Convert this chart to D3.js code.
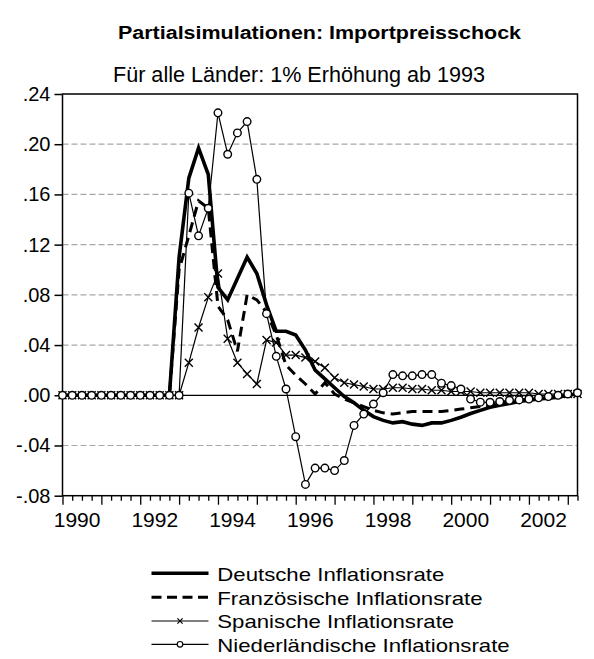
<!DOCTYPE html>
<html>
<head>
<meta charset="utf-8">
<script src="https://cdn.jsdelivr.net/npm/d3@7"></script>
<style>
  html, body { margin: 0; padding: 0; background: #fff; }
  svg { display: block; font-family: "Liberation Sans", Arial, sans-serif; }
</style>
</head>
<body>
<svg id="chart" width="594" height="659"></svg>
<script>
// Quarterly responses 1990Q1 .. 2003Q2 to a 1% import price rise from 1993
const startYear = 1990;
const deutsche = [
  0, 0, 0, 0, 0, 0, 0, 0, 0, 0, 0, 0,
  0.110, 0.173, 0.197, 0.176, 0.086, 0.076, 0.093, 0.110, 0.097, 0.072,
  0.051, 0.051, 0.048, 0.036, 0.020, 0.013, 0.006, -0.001, -0.006, -0.012,
  -0.017, -0.020, -0.022, -0.021, -0.023, -0.024, -0.022, -0.022, -0.020, -0.0175,
  -0.0145, -0.012, -0.0096, -0.008, -0.0065, -0.005, -0.004, -0.003, -0.0023, -0.0015,
  0.000, 0.001
];
const franzoesisch = [
  0, 0, 0, 0, 0, 0, 0, 0, 0, 0, 0, 0,
  0.100, 0.127, 0.155, 0.149, 0.071, 0.060, 0.035, 0.080, 0.076, 0.066,
  0.048, 0.024, 0.016, 0.009, 0.001, 0.010, 0.001, -0.003, -0.006, -0.009,
  -0.012, -0.014, -0.015, -0.014, -0.013, -0.013, -0.013, -0.013, -0.012, -0.011,
  -0.010, -0.009, -0.008, -0.006, -0.005, -0.004, -0.003, -0.002, -0.0015, -0.001,
  0.000, 0.001
];
const spanisch = [
  0, 0, 0, 0, 0, 0, 0, 0, 0, 0, 0, 0,
  0, 0.026, 0.054, 0.078, 0.097, 0.045, 0.026, 0.017, 0.009, 0.044,
  0.042, 0.032, 0.032, 0.030, 0.027, 0.022, 0.014, 0.010, 0.0085, 0.007,
  0.005, 0.005, 0.006, 0.006, 0.005, 0.005, 0.004, 0.004, 0.003, 0.003,
  0.003, 0.002, 0.002, 0.002, 0.002, 0.002, 0.002, 0.001, 0.001, 0.001,
  0.001, 0.001
];
const niederlaendisch = [
  0, 0, 0, 0, 0, 0, 0, 0, 0, 0, 0, 0,
  0, 0.161, 0.127, 0.149, 0.225, 0.192, 0.209, 0.218, 0.172, 0.065,
  0.031, 0.005, -0.033, -0.071, -0.058, -0.058, -0.060, -0.052, -0.024, -0.015,
  -0.007, 0.002, 0.0165, 0.0155, 0.0155, 0.0165, 0.0165, 0.0096, 0.0077, 0.005,
  -0.003, -0.0055, -0.0056, -0.005, -0.004, -0.0037, -0.003, -0.002, -0.001, 0.000,
  0.001, 0.002
];
const yTicks = [-0.08, -0.04, 0.00, 0.04, 0.08, 0.12, 0.16, 0.20, 0.24];
const yearLabels = [1990, 1992, 1994, 1996, 1998, 2000, 2002];
const seriesNames = [
  "Deutsche Inflationsrate",
  "Französische Inflationsrate",
  "Spanische Inflationsrate",
  "Niederländische Inflationsrate"
];

(function draw() {
  const svg = d3.select("#chart");
  svg.append("rect").attr("width", 594).attr("height", 659).attr("fill", "#fff");

  const pLeft = 62.5, pRight = 577.5, pTop = 94, pBottom = 495.7;
  const nObs = deutsche.length;
  const x = d3.scaleLinear()
    .domain([startYear, startYear + (nObs - 1) / 4])
    .range([pLeft, pRight]);
  const y = d3.scaleLinear().domain([-0.08, 0.24]).range([pBottom, pTop]);
  const tAt = i => startYear + i / 4;

  // stretch a text element horizontally to a target width
  function stretchTo(sel, w) {
    sel.attr("textLength", w).attr("lengthAdjust", "spacingAndGlyphs");
  }
  function stretchBy(sel, k) {
    sel.each(function () {
      const w = this.getComputedTextLength();
      d3.select(this).attr("textLength", w * k).attr("lengthAdjust", "spacingAndGlyphs");
    });
  }

  // titles
  svg.append("text")
    .attr("x", 118).attr("y", 39)
    .attr("font-weight", "bold").attr("font-size", 18)
    .text("Partialsimulationen: Importpreisschock")
    .call(stretchTo, 403);
  svg.append("text")
    .attr("x", 113).attr("y", 81.5)
    .attr("font-size", 21.5)
    .text("Für alle Länder: 1% Erhöhung ab 1993")
    .call(stretchTo, 372);

  // dashed horizontal grid
  const g = svg.append("g");
  g.selectAll("line.grid")
    .data(yTicks.filter(v => v !== 0 && v !== -0.08 && v !== 0.24))
    .join("line")
    .attr("x1", pLeft).attr("x2", pRight)
    .attr("y1", d => y(d)).attr("y2", d => y(d))
    .attr("stroke", "#a8a8a8").attr("stroke-width", 1.2)
    .attr("stroke-dasharray", "6,3");

  // zero line
  g.append("line")
    .attr("x1", pLeft).attr("x2", pRight)
    .attr("y1", y(0)).attr("y2", y(0))
    .attr("stroke", "#000").attr("stroke-width", 1.2);

  // y axis
  const yAxis = d3.axisLeft(y)
    .tickValues(yTicks)
    .tickSize(8)
    .tickPadding(4)
    .tickFormat(v => v.toFixed(2).replace("0.", "."));
  const ya = svg.append("g").attr("transform", `translate(${pLeft},0)`).call(yAxis);
  ya.select(".domain").remove();
  ya.selectAll(".tick line").attr("stroke", "#000").attr("stroke-width", 1.5);
  ya.selectAll(".tick text").attr("font-size", 20).attr("fill", "#000")
    .attr("font-family", "Liberation Sans, Arial, sans-serif");

  // x axis: yearly major ticks, quarterly minor ticks
  const quarterTicks = d3.range(0, nObs).map(tAt);
  const xMinor = d3.axisBottom(x).tickValues(quarterTicks.filter(t => t % 1 !== 0))
    .tickSize(5).tickFormat("");
  const xMajor = d3.axisBottom(x).tickValues(quarterTicks.filter(t => t % 1 === 0))
    .tickSize(9).tickFormat("");
  [xMinor, xMajor].forEach(ax => {
    const a = svg.append("g").attr("transform", `translate(0,${pBottom})`).call(ax);
    a.select(".domain").remove();
    a.selectAll(".tick line").attr("stroke", "#000").attr("stroke-width", 1.3);
  });
  svg.append("g").selectAll("text")
    .data(yearLabels)
    .join("text")
    .attr("x", d => x(d + 0.375)).attr("y", 527)
    .attr("text-anchor", "middle").attr("font-size", 21)
    .text(d => d);

  // frame
  svg.append("rect")
    .attr("x", pLeft).attr("y", pTop)
    .attr("width", pRight - pLeft).attr("height", pBottom - pTop)
    .attr("fill", "none").attr("stroke", "#000").attr("stroke-width", 1.5);

  // series
  const line = d3.line().x((d, i) => x(tAt(i))).y(d => y(d));
  const plot = svg.append("g");

  plot.append("path").datum(niederlaendisch).attr("d", line)
    .attr("fill", "none").attr("stroke", "#000").attr("stroke-width", 1.2);
  plot.append("path").datum(spanisch).attr("d", line)
    .attr("fill", "none").attr("stroke", "#000").attr("stroke-width", 1.2);
  plot.append("path").datum(franzoesisch).attr("d", line)
    .attr("fill", "none").attr("stroke", "#000").attr("stroke-width", 3)
    .attr("stroke-dasharray", "10,6");
  plot.append("path").datum(deutsche).attr("d", line)
    .attr("fill", "none").attr("stroke", "#000").attr("stroke-width", 3.6)
    .attr("stroke-linejoin", "miter");

  // x markers (Spanish)
  const xs = 4;
  plot.append("g").selectAll("path")
    .data(spanisch)
    .join("path")
    .attr("d", (d, i) => {
      const cx = x(tAt(i)), cy = y(d);
      return `M${cx - xs},${cy - xs}L${cx + xs},${cy + xs}M${cx - xs},${cy + xs}L${cx + xs},${cy - xs}`;
    })
    .attr("stroke", "#000").attr("stroke-width", 1.4);

  // circle markers (Dutch)
  plot.append("g").selectAll("circle")
    .data(niederlaendisch)
    .join("circle")
    .attr("cx", (d, i) => x(tAt(i))).attr("cy", d => y(d))
    .attr("r", 3.8)
    .attr("fill", "#fff").attr("stroke", "#000").attr("stroke-width", 1.4);

  // legend
  const legY = [573.3, 597.3, 621, 644.3];
  const legStyles = [
    { w: 3.6, dash: null },
    { w: 3, dash: "10,5.5" },
    { w: 1.2, dash: null, mark: "x" },
    { w: 1.2, dash: null, mark: "o" }
  ];
  const leg = svg.append("g");
  seriesNames.forEach((name, k) => {
    const yy = legY[k], st = legStyles[k];
    const ln = leg.append("line")
      .attr("x1", 151.5).attr("x2", 208.5).attr("y1", yy).attr("y2", yy)
      .attr("stroke", "#000").attr("stroke-width", st.w);
    if (st.dash) ln.attr("stroke-dasharray", st.dash);
    if (st.mark === "x") {
      const s = 2.6, cx = 180;
      leg.append("path")
        .attr("d", `M${cx - s},${yy - s}L${cx + s},${yy + s}M${cx - s},${yy + s}L${cx + s},${yy - s}`)
        .attr("stroke", "#000").attr("stroke-width", 1.2);
    }
    if (st.mark === "o") {
      leg.append("circle").attr("cx", 180).attr("cy", yy).attr("r", 2.8)
        .attr("fill", "#fff").attr("stroke", "#000").attr("stroke-width", 1.2);
    }
    leg.append("text")
      .attr("x", 217.3).attr("y", yy + 7.3)
      .attr("font-size", 19)
      .text(name)
      .call(stretchBy, 1.168);
  });
})();
</script>
</body>
</html>
